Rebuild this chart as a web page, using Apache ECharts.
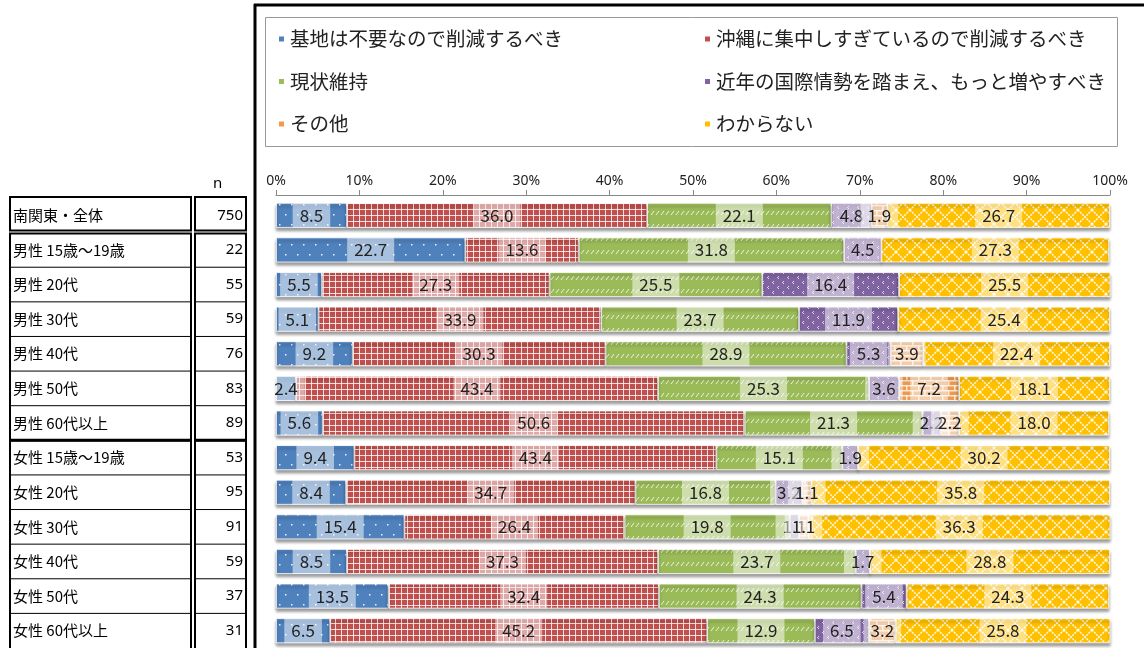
<!DOCTYPE html>
<html>
<head>
<meta charset="utf-8">
<script src="https://cdn.jsdelivr.net/npm/echarts@6/dist/echarts.min.js"></script>
<style>
  html, body { margin: 0; padding: 0; background: #fff; }
  #chart { width: 1144px; height: 648px; }
</style>
</head>
<body>
<div id="chart"></div>
<script>
// ---- data ----
const categories = ['南関東・全体', '男性 15歳～19歳', '男性 20代', '男性 30代', '男性 40代', '男性 50代', '男性 60代以上',
  '女性 15歳～19歳', '女性 20代', '女性 30代', '女性 40代', '女性 50代', '女性 60代以上'];
const nValues = [750, 22, 55, 59, 76, 83, 89, 53, 95, 91, 59, 37, 31];
const seriesNames = ['基地は不要なので削減するべき', '沖縄に集中しすぎているので削減するべき', '現状維持',
  '近年の国際情勢を踏まえ、もっと増やすべき', 'その他', 'わからない'];
const reduceAll = [8.5, 22.7, 5.5, 5.1, 9.2, 2.4, 5.6, 9.4, 8.4, 15.4, 8.5, 13.5, 6.5];
const reduceOkinawa = [36.0, 13.6, 27.3, 33.9, 30.3, 43.4, 50.6, 43.4, 34.7, 26.4, 37.3, 32.4, 45.2];
const keepAsIs = [22.1, 31.8, 25.5, 23.7, 28.9, 25.3, 21.3, 15.1, 16.8, 19.8, 23.7, 24.3, 12.9];
const increase = [4.8, 4.5, 16.4, 11.9, 5.3, 3.6, 2.2, 1.9, 3.2, 1.1, 1.7, 5.4, 6.5];
const other = [1.9, 0, 0, 0, 3.9, 7.2, 2.2, 0, 1.1, 1.1, 0, 0, 3.2];
const dontKnow = [26.7, 27.3, 25.5, 25.4, 22.4, 18.1, 18.0, 30.2, 35.8, 36.3, 28.8, 24.3, 25.8];
const xTicks = [0, 10, 20, 30, 40, 50, 60, 70, 80, 90, 100];

const seriesValues = [reduceAll, reduceOkinawa, keepAsIs, increase, other, dontKnow];

// ---- fill patterns ----
function tile(w, h, base, draw) {
  const c = document.createElement('canvas');
  c.width = w; c.height = h;
  const g = c.getContext('2d');
  g.fillStyle = base;
  g.fillRect(0, 0, w, h);
  draw(g);
  return { image: c, repeat: 'repeat' };
}

const patterns = [
  // blue, sparse white dots
  tile(12, 20, '#4f81bd', g => {
    g.fillStyle = 'rgba(255,255,255,0.9)';
    g.fillRect(3, 4, 1.5, 1.5);
    g.fillRect(9, 14, 1.5, 1.5);
  }),
  // red, small white grid
  tile(6, 6, '#c0504d', g => {
    g.fillStyle = 'rgba(255,255,255,0.8)';
    g.fillRect(5, 0, 1, 6);
    g.fillRect(0, 5, 6, 1);
  }),
  // green, short diagonal dashes
  tile(5, 13, '#9bbb59', g => {
    g.strokeStyle = 'rgba(255,255,255,0.8)';
    g.lineWidth = 1;
    g.beginPath();
    g.moveTo(1, 7); g.lineTo(4, 3);
    g.stroke();
  }),
  // purple, small chevrons
  tile(10, 10, '#8064a2', g => {
    g.fillStyle = 'rgba(255,255,255,0.75)';
    g.fillRect(3, 1, 1, 1); g.fillRect(2, 2, 1, 1); g.fillRect(3, 3, 1, 1);
    g.fillRect(8, 6, 1, 1); g.fillRect(7, 7, 1, 1); g.fillRect(8, 8, 1, 1);
  }),
  // orange, bricks
  tile(12, 10, '#eb9a52', g => {
    g.fillStyle = 'rgba(255,240,225,0.9)';
    g.fillRect(0, 0, 12, 1.5);
    g.fillRect(0, 5, 12, 1.5);
    g.fillRect(0, 0, 1.5, 5);
    g.fillRect(6, 5, 1.5, 5);
  }),
  // yellow, dotted diamond lattice
  tile(14, 14, '#ffc000', g => {
    g.strokeStyle = 'rgba(255,255,255,0.9)';
    g.lineWidth = 1.5;
    g.setLineDash([2, 1]);
    g.beginPath();
    g.moveTo(0, 0); g.lineTo(14, 14);
    g.moveTo(14, 0); g.lineTo(0, 14);
    g.stroke();
  })
];

const legendColors = ['#4f81bd', '#c0504d', '#9bbb59', '#8064a2', '#f79646', '#ffc000'];

// ---- layout ----
const gridTop = 198, gridLeft = 276, gridRight = 34, gridHeight = 450;
const band = gridHeight / categories.length;

const series = seriesNames.map((name, i) => ({
  name: name,
  type: 'bar',
  stack: 'total',
  barWidth: 25,
  itemStyle: {
    color: patterns[i],
    borderColor: '#fff',
    borderWidth: 0.8,
    shadowColor: 'rgba(0,0,0,0.4)',
    shadowBlur: 3,
    shadowOffsetY: 3
  },
  label: {
    show: true,
    position: 'inside',
    formatter: p => p.value.toFixed(1),
    color: '#222',
    fontSize: 17,
    fontFamily: 'Noto Sans CJK JP',
    lineHeight: 17,
    backgroundColor: 'rgba(255,255,255,0.5)',
    padding: [4, 7]
  },
  data: seriesValues[i].map(v => v > 0 ? { value: v } : { value: v, label: { show: false } })
}));

// table lines (name column + n column)
const yEdge = k => gridTop + k * band;
const tableGraphics = [];
function box(x1, x2, y1, y2, lw) {
  tableGraphics.push({ type: 'rect', shape: { x: x1, y: y1, width: x2 - x1, height: y2 - y1 },
    style: { fill: null, stroke: '#000', lineWidth: lw }, silent: true });
}
function hline(x1, x2, y, lw) {
  tableGraphics.push({ type: 'line', shape: { x1: x1, y1: y, x2: x2, y2: y },
    style: { stroke: '#000', lineWidth: lw }, silent: true });
}
const cols = [[10, 191], [195, 246]];
cols.forEach(([a, b]) => {
  box(a, b, yEdge(0) - 1, yEdge(1) - 2, 2);
  box(a, b, yEdge(1) + 1, yEdge(7), 2);
  box(a, b, yEdge(7), yEdge(13) + 4, 2);
  hline(a, b, yEdge(7), 3);
  for (let k = 2; k < 13; k++) if (k !== 7) hline(a, b, yEdge(k), 1);
});

const legendText = { fontSize: 19.5, color: '#222', lineHeight: 22 };
const chart = echarts.init(document.getElementById('chart'));
chart.setOption({
  animation: false,
  textStyle: { fontFamily: 'Noto Sans CJK JP' },
  legend: [
    {
      data: [0, 2, 4].map(i => ({ name: seriesNames[i], itemStyle: { color: legendColors[i] } })),
      orient: 'vertical', left: 277, top: 28, padding: 0, itemGap: 20.5,
      icon: 'rect', itemWidth: 7, itemHeight: 7,
      textStyle: legendText,
      selectedMode: false
    },
    {
      data: [1, 3, 5].map(i => ({ name: seriesNames[i], itemStyle: { color: legendColors[i] } })),
      orient: 'vertical', left: 703, top: 28, padding: 0, itemGap: 20.5,
      icon: 'rect', itemWidth: 7, itemHeight: 7,
      textStyle: legendText,
      selectedMode: false
    }
  ],
  grid: { left: gridLeft, right: gridRight, top: gridTop, height: gridHeight },
  xAxis: {
    type: 'value',
    position: 'top',
    offset: 3,
    min: xTicks[0],
    max: xTicks[xTicks.length - 1],
    interval: xTicks[1] - xTicks[0],
    axisLine: { show: true, lineStyle: { color: '#888' } },
    axisTick: { show: true, length: 5, lineStyle: { color: '#888' } },
    splitLine: { show: false },
    axisLabel: { formatter: '{value}%', fontSize: 14, color: '#222', margin: 7, fontFamily: 'Noto Sans' }
  },
  yAxis: [
    {
      type: 'category',
      data: categories,
      inverse: true,
      position: 'left',
      axisLine: { show: false },
      axisTick: { show: false },
      axisLabel: { align: 'left', margin: gridLeft - 13, fontSize: 15, color: '#000' }
    },
    {
      type: 'category',
      data: nValues.map(String),
      inverse: true,
      position: 'left',
      axisLine: { show: false },
      axisTick: { show: false },
      axisLabel: { align: 'right', margin: gridLeft - 243, fontSize: 15, color: '#000', fontFamily: 'Noto Sans' }
    }
  ],
  graphic: [
    // outer frame
    { type: 'line', shape: { x1: 255, y1: 4, x2: 255, y2: 648 }, style: { stroke: '#000', lineWidth: 3 }, silent: true },
    { type: 'line', shape: { x1: 254, y1: 5, x2: 1144, y2: 5 }, style: { stroke: '#000', lineWidth: 3 }, silent: true },
    // legend box
    { type: 'rect', shape: { x: 265.5, y: 17.5, width: 852, height: 129 }, style: { fill: null, stroke: '#999', lineWidth: 1 }, silent: true },
    // n header
    { type: 'text', left: 213, top: 176, style: { text: 'n', fontSize: 15, fill: '#000', fontFamily: 'Noto Sans' }, silent: true }
  ].concat(tableGraphics),
  series: series
});
</script>
</body>
</html>
